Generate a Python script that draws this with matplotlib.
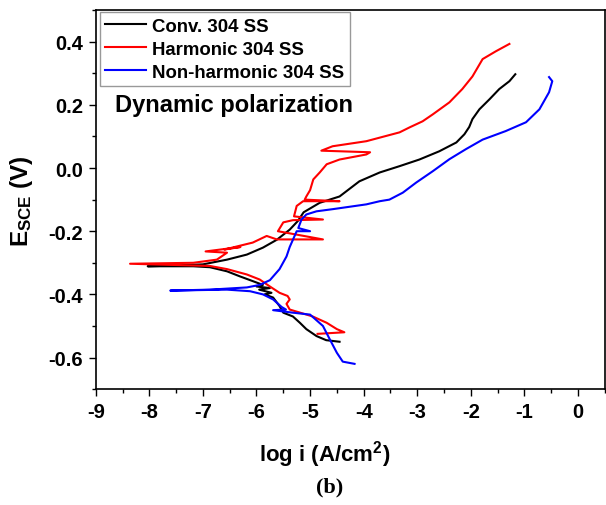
import matplotlib
matplotlib.use('Agg')
import matplotlib.pyplot as plt
from matplotlib.ticker import MultipleLocator

plt.rcParams['font.family'] = ['Liberation Sans', 'DejaVu Sans']
plt.rcParams['font.weight'] = 'bold'
plt.rcParams['mathtext.fontset'] = 'custom'
plt.rcParams['mathtext.rm'] = 'Liberation Sans:bold'
plt.rcParams['mathtext.bf'] = 'Liberation Sans:bold'
plt.rcParams['mathtext.default'] = 'bf'

# Conv. 304 SS  (cathodic tail -> Ecorr -> anodic branch)
conv_logi = [-4.45, -4.7, -4.88, -5.07, -5.19, -5.32, -5.5, -5.57, -5.69, -5.85,
             -5.72, -5.95, -5.75, -6.0, -5.88, -6.07, -6.31, -6.55, -6.87, -7.18,
             -8.03, -7.8, -7.0, -6.55, -6.18, -5.88, -5.62, -5.38, -5.23, -5.12,
             -4.82, -4.45, -4.08, -3.7, -3.33, -2.96, -2.59, -2.27, -2.12, -2.03,
             -1.97, -1.84, -1.65, -1.47, -1.28, -1.17]
conv_e = [-0.55, -0.545, -0.532, -0.51, -0.49, -0.47, -0.458, -0.437, -0.41, -0.40,
          -0.395, -0.385, -0.38, -0.375, -0.37, -0.358, -0.343, -0.327, -0.314, -0.311,
          -0.311, -0.31, -0.305, -0.29, -0.274, -0.252, -0.227, -0.195, -0.168, -0.14,
          -0.11, -0.09, -0.042, -0.014, 0.006, 0.027, 0.053, 0.081, 0.107, 0.13,
          0.155, 0.186, 0.218, 0.25, 0.275, 0.297]

# Harmonic 304 SS
harm_logi = [-4.86, -4.36, -4.5, -4.69, -4.95, -5.38, -5.44, -5.38, -5.42, -5.57,
             -5.75, -5.94, -6.18, -6.55, -6.87, -8.36, -7.18, -6.74, -6.55, -6.95,
             -6.3, -6.6, -6.07, -5.81, -5.62, -4.76, -5.6, -5.5, -5.32, -4.76,
             -5.3, -5.25, -5.13, -4.45, -5.1, -5.07, -5.0, -4.94, -4.82, -4.69,
             -4.45, -3.95, -3.88, -4.79, -4.58, -3.95, -3.33, -3.14, -2.9, -2.71,
             -2.4, -2.16, -1.97, -1.78, -1.53, -1.28]
harm_e = [-0.525, -0.52, -0.51, -0.49, -0.47, -0.448, -0.43, -0.416, -0.405, -0.395,
          -0.375, -0.353, -0.337, -0.32, -0.31, -0.303, -0.30, -0.29, -0.268, -0.264,
          -0.25, -0.258, -0.236, -0.215, -0.226, -0.226, -0.2, -0.172, -0.165, -0.163,
          -0.153, -0.12, -0.105, -0.105, -0.1, -0.09, -0.07, -0.036, -0.014, 0.012,
          0.027, 0.043, 0.05, 0.055, 0.069, 0.085, 0.113, 0.129, 0.148, 0.17,
          0.208, 0.25, 0.29, 0.345, 0.37, 0.393]

# Non-harmonic 304 SS
nonh_logi = [-4.17, -4.39, -4.5, -4.63, -4.76, -5.0, -5.32, -5.69, -5.45, -5.53,
             -5.69, -5.88, -6.12, -6.55, -7.61, -6.87, -6.18, -5.94, -5.75, -5.57,
             -5.44, -5.38, -5.25, -5.0, -5.22, -5.16, -5.07, -4.88, -4.57, -3.95,
             -3.7, -3.52, -3.27, -3.02, -2.71, -2.4, -2.09, -1.78, -1.35, -0.97,
             -0.72, -0.54, -0.48, -0.54]
nonh_e = [-0.62, -0.613, -0.585, -0.543, -0.50, -0.464, -0.458, -0.45, -0.448, -0.44,
          -0.416, -0.40, -0.39, -0.385, -0.388, -0.385, -0.378, -0.37, -0.355, -0.32,
          -0.28, -0.25, -0.2, -0.2, -0.19, -0.163, -0.147, -0.137, -0.13, -0.115,
          -0.105, -0.1, -0.078, -0.046, -0.01, 0.028, 0.06, 0.09, 0.117, 0.145,
          0.186, 0.24, 0.275, 0.288]

fig = plt.figure(figsize=(6.06, 5.06), dpi=100)
ax = fig.add_axes([0.158, 0.229, 0.84, 0.749])

ax.plot(conv_logi, conv_e, color='black', lw=1.5, label='Conv. 304 SS')
ax.plot(harm_logi, harm_e, color='red', lw=1.5, label='Harmonic 304 SS')
ax.plot(nonh_logi, nonh_e, color='blue', lw=1.5, label='Non-harmonic 304 SS')

ax.set_xlim(-9, 0.5)
ax.set_ylim(-0.7, 0.5)
ax.xaxis.set_minor_locator(MultipleLocator(0.5))
ax.yaxis.set_minor_locator(MultipleLocator(0.1))
ax.set_yticks([-0.6, -0.4, -0.2, 0.0, 0.2, 0.4])
ax.set_yticklabels(['-0.6', '-0.4', '-0.2', '0.0', '0.2', '0.4'])
ax.set_xticks(range(-9, 1))
ax.set_xticklabels([str(v) for v in range(-9, 1)])

ax.tick_params(which='major', direction='out', length=5, width=1, labelsize=14.5, pad=4)
ax.tick_params(which='minor', direction='out', length=3, width=1)
ax.tick_params(top=False, right=False, which='both')
for s in ax.spines.values():
    s.set_linewidth(1.2)

ax.set_xlabel(r'log i (A/cm$^{2}$)', fontsize=16, fontweight='bold')
ax.xaxis.set_label_coords(0.45, -0.128)
ax.set_ylabel(r'E$_{SCE}$ (V)', fontsize=17.5, fontweight='bold')
ax.yaxis.set_label_coords(-0.12, 0.5)

leg = ax.legend(loc='upper left', bbox_to_anchor=(0.008, 0.995), fontsize=13.4,
                frameon=True, fancybox=False, edgecolor='gray', handlelength=2.2,
                labelspacing=0.32, borderpad=0.3, handletextpad=0.3, borderaxespad=0)
leg.get_frame().set_linewidth(1.0)

ax.text(0.038, 0.752, 'Dynamic polarization', transform=ax.transAxes,
        fontsize=17, fontweight='bold', va='center', ha='left')

fig.text(330 / 606, 1 - 487 / 506, '(b)', fontsize=16, fontweight='bold',
         family='Liberation Serif', ha='center', va='center')

fig.savefig('out.png', dpi=100)
